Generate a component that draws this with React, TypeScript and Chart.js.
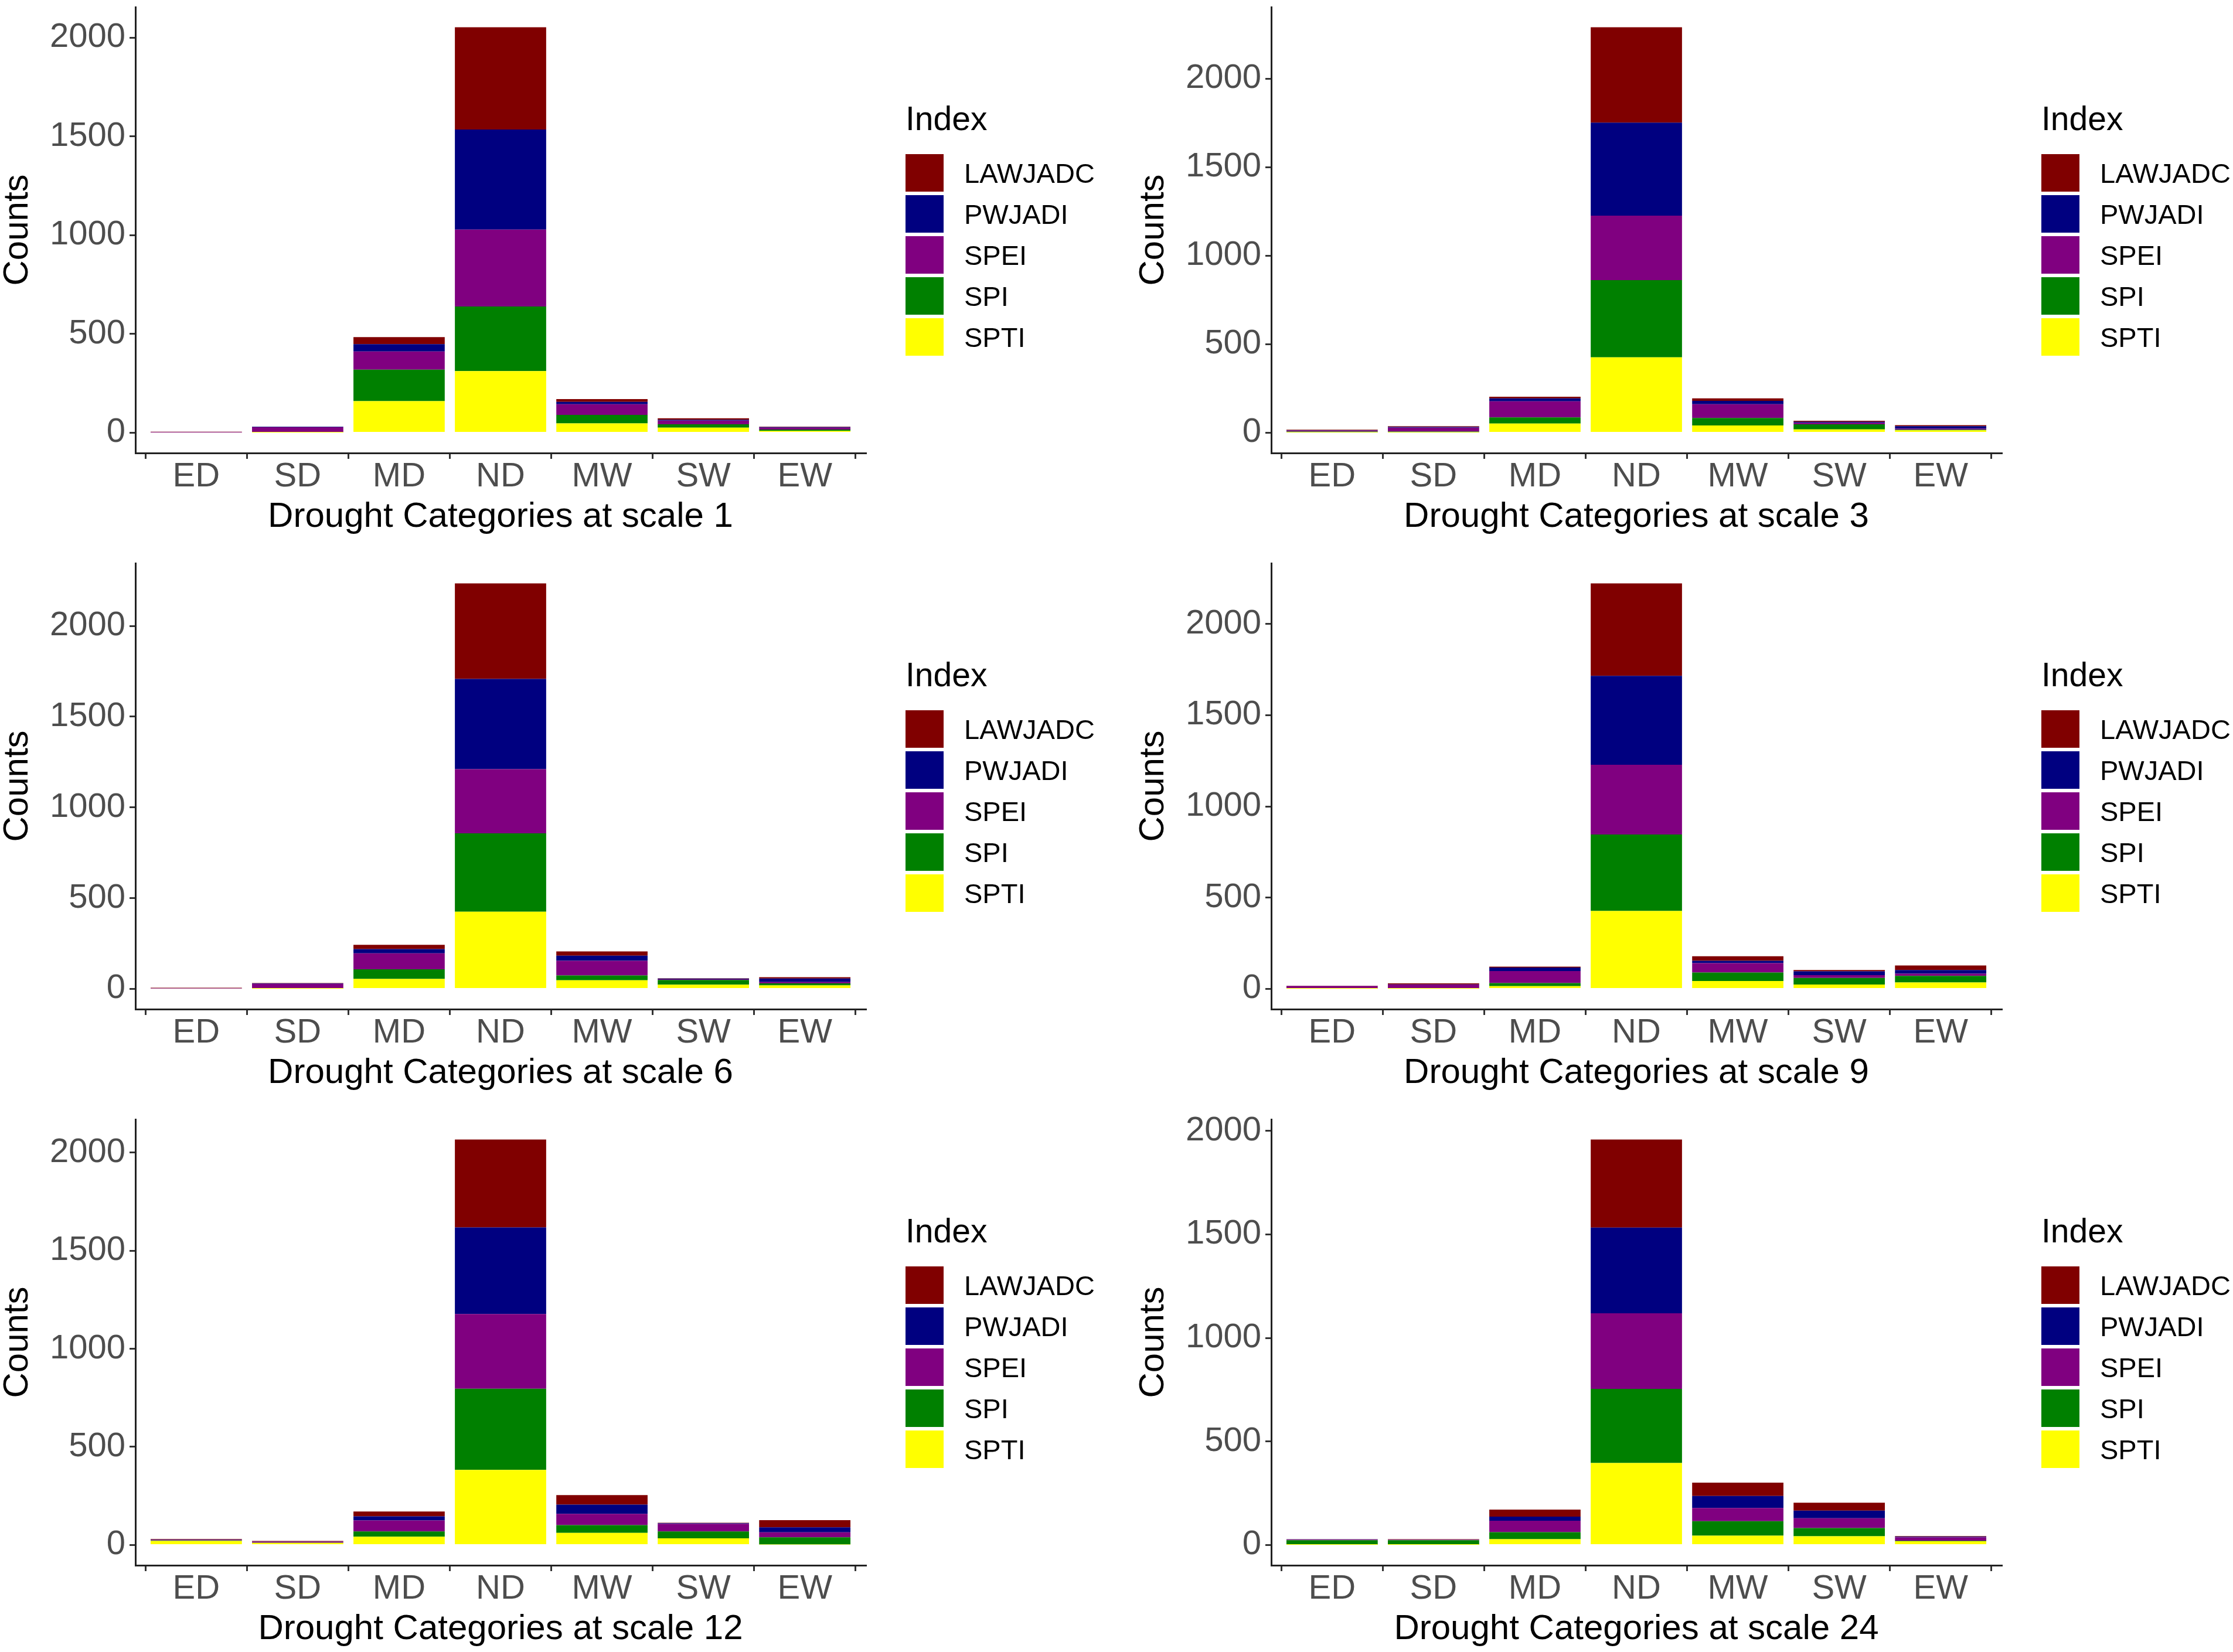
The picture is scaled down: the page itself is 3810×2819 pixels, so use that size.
import React, { useEffect, useRef } from "react";
import { Chart, registerables } from "chart.js";

Chart.register(...registerables);

// ---------- data ----------
const categories = ["ED", "SD", "MD", "ND", "MW", "SW", "EW"];
const indexNames = ["SPTI", "SPI", "SPEI", "PWJADI", "LAWJADC"]; // stacking order, bottom -> top
const legendOrder = ["LAWJADC", "PWJADI", "SPEI", "SPI", "SPTI"];
const indexColors = ["#FFFF00", "#008000", "#800080", "#000080", "#800000"];
const yTickValues = [0, 500, 1000, 1500, 2000];
const scaleLabels = ["1", "3", "6", "9", "12", "24"];

// scale 1 (per category ED..EW)
const s1SPTI = [0, 1, 160, 312, 47, 26, 9];
const s1SPI = [0, 2, 159, 327, 43, 17, 7];
const s1SPEI = [2, 25, 92, 389, 54, 18, 10];
const s1PWJADI = [0, 2, 37, 507, 12, 5, 3];
const s1LAWJADC = [3, 1, 36, 517, 14, 7, 2];

// scale 3
const s3SPTI = [2, 2, 52, 426, 41, 19, 14];
const s3SPI = [4, 4, 35, 436, 42, 29, 3];
const s3SPEI = [6, 23, 91, 365, 78, 8, 6];
const s3PWJADI = [2, 4, 16, 525, 19, 6, 14];
const s3LAWJADC = [3, 4, 9, 539, 14, 6, 6];

// scale 6
const s6SPTI = [0, 1, 55, 425, 47, 23, 19];
const s6SPI = [0, 2, 53, 432, 27, 26, 11];
const s6SPEI = [3, 25, 88, 354, 81, 4, 8];
const s6PWJADI = [0, 2, 23, 497, 28, 3, 19];
const s6LAWJADC = [3, 2, 24, 526, 23, 2, 7];

// scale 9
const s9SPTI = [1, 1, 15, 427, 43, 24, 35];
const s9SPI = [1, 1, 17, 419, 47, 36, 36];
const s9SPEI = [14, 22, 66, 382, 51, 15, 12];
const s9PWJADI = [0, 1, 19, 488, 13, 21, 20];
const s9LAWJADC = [1, 5, 5, 506, 25, 7, 25];

// scale 12
const s12SPTI = [21, 11, 42, 383, 62, 34, 3];
const s12SPI = [2, 1, 27, 413, 39, 35, 36];
const s12SPEI = [3, 5, 56, 381, 58, 39, 26];
const s12PWJADI = [1, 1, 21, 441, 47, 3, 25];
const s12LAWJADC = [3, 3, 25, 448, 48, 2, 37];

// scale 24
const s24SPTI = [1, 1, 28, 396, 45, 42, 18];
const s24SPI = [22, 22, 34, 358, 70, 40, 2];
const s24SPEI = [3, 2, 55, 365, 64, 47, 17];
const s24PWJADI = [1, 1, 20, 414, 58, 37, 3];
const s24LAWJADC = [1, 2, 34, 425, 64, 38, 3];

const panelSeries = [
  [s1SPTI, s1SPI, s1SPEI, s1PWJADI, s1LAWJADC],
  [s3SPTI, s3SPI, s3SPEI, s3PWJADI, s3LAWJADC],
  [s6SPTI, s6SPI, s6SPEI, s6PWJADI, s6LAWJADC],
  [s9SPTI, s9SPI, s9SPEI, s9PWJADI, s9LAWJADC],
  [s12SPTI, s12SPI, s12SPEI, s12PWJADI, s12LAWJADC],
  [s24SPTI, s24SPI, s24SPEI, s24PWJADI, s24LAWJADC],
];

// ---------- layout ----------
const FONT = "'Liberation Sans', Arial, Helvetica, sans-serif";
const W = 1872;
const H = 921;
const AREA_LEFT = 231;
const AREA_RIGHT = 1477;
const AREA_TOP = 12;
const AREA_BOTTOM = 773;
const colX = [0, 1938];
const rowY = [0, 949, 1898];

function Panel({ series, label, left, top }: { series: number[][]; label: string; left: number; top: number }) {
  const ref = useRef<HTMLCanvasElement>(null);
  useEffect(() => {
    if (!ref.current) return;
    const totals = categories.map((_, i) => series.reduce((s, arr) => s + arr[i], 0));
    const maxTotal = Math.max(...totals);
    const chart = new Chart(ref.current, {
      type: "bar",
      data: {
        datasets: indexNames.map((name, k) => ({
          label: name,
          data: series[k].map((v, i) => ({ x: i + 1, y: v })),
          backgroundColor: indexColors[k],
          borderWidth: 0,
          barPercentage: 0.9,
          categoryPercentage: 1,
        })),
      },
      options: {
        animation: false,
        responsive: false,
        devicePixelRatio: 1,
        layout: { padding: { left: 0, top: AREA_TOP, right: W - AREA_RIGHT, bottom: 0 } },
        plugins: { legend: { display: false }, tooltip: { enabled: false } },
        scales: {
          x: {
            type: "linear",
            stacked: true,
            min: 0.4,
            max: 7.6,
            offset: false,
            afterBuildTicks: (axis: any) => {
              axis.ticks = categories.map((_, i) => ({ value: i + 1 }));
            },
            afterFit: (s: any) => {
              s.height = H - AREA_BOTTOM;
              s.paddingLeft = 0;
              s.paddingRight = 0;
            },
            ticks: {
              callback: (v: any) => categories[Math.round(Number(v)) - 1],
              color: "#4D4D4D",
              font: { family: FONT, size: 58, lineHeight: 1 },
              padding: 2,
              autoSkip: false,
              maxRotation: 0,
              minRotation: 0,
            },
            grid: { display: true, drawOnChartArea: false, drawTicks: true, tickLength: 10, tickColor: "#333333", tickWidth: 3, lineWidth: 3 },
            border: { display: true, color: "#222222", width: 3 },
            title: {
              display: true,
              text: `Drought Categories at scale ${label}`,
              color: "#000000",
              font: { family: FONT, size: 60, lineHeight: 1 },
              padding: { top: 0, bottom: 9 },
            },
          },
          y: {
            type: "linear",
            stacked: true,
            min: -0.05 * maxTotal,
            max: 1.05 * maxTotal,
            afterBuildTicks: (axis: any) => {
              axis.ticks = yTickValues.filter((v) => v <= axis.max).map((v) => ({ value: v }));
            },
            afterFit: (s: any) => {
              s.width = AREA_LEFT;
              s.paddingTop = 0;
              s.paddingBottom = 0;
            },
            ticks: {
              callback: (v: any) => String(Math.round(Number(v))),
              color: "#4D4D4D",
              font: { family: FONT, size: 58, lineHeight: 1 },
              padding: 7,
            },
            grid: { display: true, drawOnChartArea: false, drawTicks: true, tickLength: 10, tickColor: "#333333", tickWidth: 3, lineWidth: 3 },
            border: { display: true, color: "#222222", width: 3 },
            title: {
              display: true,
              text: "Counts",
              color: "#000000",
              font: { family: FONT, size: 60, lineHeight: 1 },
              padding: { top: 0, bottom: 0 },
            },
          },
        },
      },
    } as any);
    return () => chart.destroy();
  }, [series, label]);

  return (
    <div style={{ position: "absolute", left, top, width: W, height: H }}>
      <canvas ref={ref} width={W} height={H} style={{ width: W, height: H, display: "block" }} />
      <div
        style={{
          position: "absolute",
          left: 1545,
          top: 174,
          fontFamily: FONT,
          fontSize: 57,
          lineHeight: "57px",
          color: "#000",
          whiteSpace: "nowrap",
        }}
      >
        Index
      </div>
      {legendOrder.map((name, j) => {
        const k = indexNames.indexOf(name);
        return (
          <div
            key={name}
            style={{
              position: "absolute",
              left: 1545,
              top: 263 + j * 70,
              height: 64,
              display: "flex",
              alignItems: "center",
              whiteSpace: "nowrap",
            }}
          >
            <div style={{ width: 65, height: 64, background: indexColors[k] }} />
            <span style={{ marginLeft: 35, fontFamily: FONT, fontSize: 47, lineHeight: "47px", color: "#000" }}>{name}</span>
          </div>
        );
      })}
    </div>
  );
}

export default function App() {
  return (
    <div style={{ position: "absolute", left: 0, top: 0, width: 3810, height: 2819, background: "#fff", overflow: "hidden" }}>
      {panelSeries.map((series, p) => (
        <Panel key={p} series={series} label={scaleLabels[p]} left={colX[p % 2]} top={rowY[Math.floor(p / 2)]} />
      ))}
    </div>
  );
}
